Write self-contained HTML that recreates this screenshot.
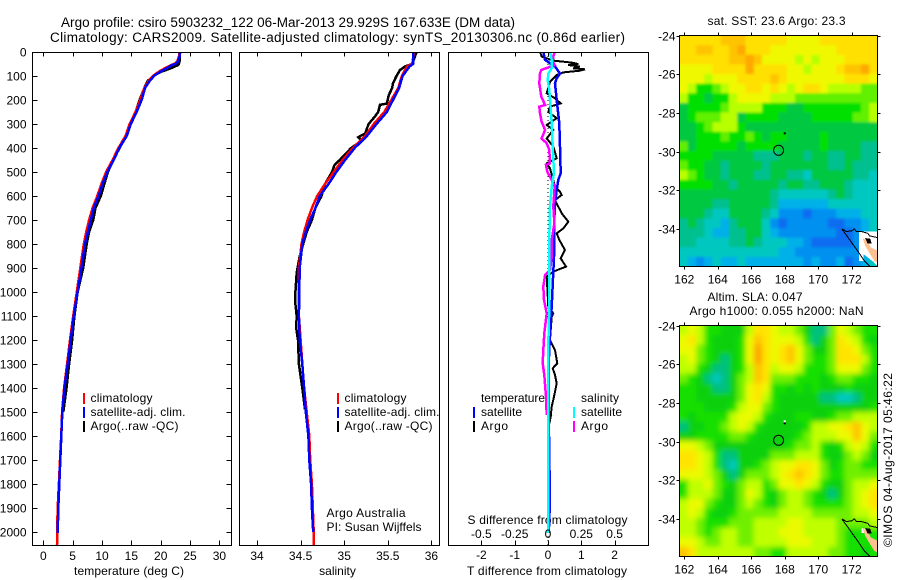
<!DOCTYPE html>
<html lang="en">
<head>
<meta charset="utf-8">
<title>Argo profile chart</title>
<style>
html,body{margin:0;padding:0;background:#fff;}
svg{display:block;font-family:"Liberation Sans",sans-serif;fill:#000;}
text{font-size:12px;}
.t14{font-size:13.5px;}
</style>
</head>
<body>
<svg id="chart" xmlns="http://www.w3.org/2000/svg" width="900" height="580" viewBox="0 0 900 580">
<defs>
<clipPath id="clip-sst"><rect x="679.5" y="35.5" width="198" height="231"/></clipPath>
<clipPath id="clip-sla"><rect x="679.5" y="325.5" width="198" height="231"/></clipPath>
<clipPath id="clip-temp"><rect x="32.5" y="52.5" width="199" height="493"/></clipPath>
<clipPath id="clip-sal"><rect x="239.5" y="52.5" width="200" height="493"/></clipPath>
<clipPath id="clip-diff"><rect x="448.5" y="52.5" width="200" height="493"/></clipPath>
<filter id="soft-sst" x="-5%" y="-5%" width="110%" height="110%"><feGaussianBlur stdDeviation="1.3"/></filter>
<filter id="soft-sla" x="-5%" y="-5%" width="110%" height="110%"><feGaussianBlur stdDeviation="2.6"/></filter>
</defs>
<text class="t14" x="61" y="27" textLength="454" lengthAdjust="spacing">Argo profile: csiro 5903232_122 06-Mar-2013 29.929S 167.633E (DM data)</text>
<text class="t14" x="50" y="42" textLength="575" lengthAdjust="spacing">Climatology: CARS2009. Satellite-adjusted climatology: synTS_20130306.nc (0.86d earlier)</text>

<text x="129" y="575" text-anchor="middle" textLength="110" lengthAdjust="spacing">temperature (deg C)</text>
<text x="337.5" y="575" text-anchor="middle">salinity</text>
<text x="547" y="575" text-anchor="middle" textLength="160" lengthAdjust="spacing">T difference from climatology</text>
<text x="547.5" y="524" text-anchor="middle" textLength="160" lengthAdjust="spacing">S difference from climatology</text>
<text x="326.5" y="517" textLength="79" lengthAdjust="spacing">Argo Australia</text>
<text x="326.5" y="531" textLength="95" lengthAdjust="spacing">PI: Susan Wijffels</text>

<text x="776.5" y="25" text-anchor="middle" textLength="138" lengthAdjust="spacing">sat. SST: 23.6 Argo: 23.3</text>
<text x="755" y="301" text-anchor="middle" textLength="95" lengthAdjust="spacing">Altim. SLA: 0.047</text>
<text x="776.5" y="315" text-anchor="middle" textLength="174" lengthAdjust="spacing">Argo h1000: 0.055 h2000: NaN</text>
<text transform="translate(892,547) rotate(-90)" textLength="174" lengthAdjust="spacing">©IMOS 04-Aug-2017 05:46:22</text>

<g>
<rect x="83" y="393" width="2" height="11" fill="#f00"/>
<text x="90.5" y="402" textLength="62" lengthAdjust="spacing">climatology</text>
<rect x="83" y="407" width="2" height="11" fill="#00f"/>
<text x="90.5" y="416" textLength="95" lengthAdjust="spacing">satellite-adj. clim.</text>
<rect x="83" y="421" width="2" height="11" fill="#000"/>
<text x="90.5" y="430" textLength="88" lengthAdjust="spacing">Argo(..raw -QC)</text>
</g>
<g>
<rect x="337" y="393" width="2" height="11" fill="#f00"/>
<text x="344.5" y="402" textLength="62" lengthAdjust="spacing">climatology</text>
<rect x="337" y="407" width="2" height="11" fill="#00f"/>
<text x="344.5" y="416" textLength="95" lengthAdjust="spacing">satellite-adj. clim.</text>
<rect x="337" y="421" width="2" height="11" fill="#000"/>
<text x="344.5" y="430" textLength="88" lengthAdjust="spacing">Argo(..raw -QC)</text>
</g>

<g id="plots"></g>

<g>
<text x="481" y="402" textLength="64" lengthAdjust="spacing">temperature</text>
<rect x="473" y="407" width="2" height="11" fill="#00f"/>
<text x="481" y="416" textLength="41" lengthAdjust="spacing">satellite</text>
<rect x="473" y="421" width="2" height="11" fill="#000"/>
<text x="481" y="430" textLength="27" lengthAdjust="spacing">Argo</text>
<text x="581" y="402" textLength="38" lengthAdjust="spacing">salinity</text>
<rect x="573" y="407" width="2" height="11" fill="#0ff"/>
<text x="581" y="416" textLength="41" lengthAdjust="spacing">satellite</text>
<rect x="573" y="421" width="2" height="11" fill="#f0f"/>
<text x="581" y="430" textLength="27" lengthAdjust="spacing">Argo</text>
</g>
</svg>

<script>
// ---- Tick labels ----
const depthTicks = [0,100,200,300,400,500,600,700,800,900,1000,1100,1200,1300,1400,1500,1600,1700,1800,1900,2000];
const tempTicks = [0,5,10,15,20,25,30];
const salTicks = [34,34.5,35,35.5,36];
const diffTTicks = [-2,-1,0,1,2];
const diffSTicks = [-0.5,-0.25,0,0.25,0.5];
const lonTicks = [162,164,166,168,170,172];
const latTicks = [-24,-26,-28,-30,-32,-34];

// ---- Temperature profiles ----
const tempClimDepth = [0,20,40,50,55,76,97,118,150,200,250,300,350,400,450,500,550,600,650,700,750,800,900,1000,1100,1200,1300,1400,1500,1600,1700,1800,1900,2000,2060];
const tempClimValue = [23.2,23.1,22.8,22.3,21.7,20.1,18.8,18,17.2,16.5,15.7,14.7,14,12.8,11.8,10.7,9.9,9.2,8.4,7.8,7.3,6.9,6.3,5.7,5.1,4.55,4.05,3.55,3.2,3.05,2.85,2.65,2.45,2.35,2.33];
const tempSatDepth = [0,20,40,50,55,76,97,118,150,200,250,300,350,400,450,500,550,600,650,700,750,800,900,1000,1100,1200,1300,1400,1500,1600,1700,1800,1900,2004];
const tempSatValue = [23.3,23.2,22.9,22.5,21.9,20.4,19,18.2,17.35,16.75,15.9,14.9,14.2,12.95,12,10.9,10.1,9.4,8.6,8.1,7.6,7.1,6.5,5.85,5.2,4.66,4.15,3.6,3.24,3.07,2.9,2.73,2.56,2.45];
const tempArgoDepth = [0,40,50,55,69,83,97,120,150,200,250,300,350,400,450,500,550,600,650,700,750,800,900,1000,1100,1200,1300,1400,1500];
const tempArgoValue = [23.3,23.2,23.1,22.9,21.6,20,18.9,17.8,17.2,16.4,15.7,14.7,14,13,11.9,11,10.4,9.8,8.9,8.5,7.8,7.4,6.8,5.85,5.3,4.9,4.4,3.95,3.4];

// ---- Salinity profiles ----
const salClimDepth = [0,50,60,100,150,200,250,300,350,400,450,500,550,600,650,700,750,800,900,1000,1100,1200,1300,1400,1500,1600,1700,1800,1900,2000,2060];
const salClimValue = [35.8,35.78,35.72,35.66,35.62,35.54,35.46,35.34,35.24,35.1,34.98,34.88,34.78,34.69,34.63,34.58,34.54,34.51,34.48,34.48,34.48,34.5,34.52,34.54,34.57,34.6,34.61,34.63,34.64,34.65,34.65];
const salSatDepth = [0,50,60,100,150,200,250,300,350,400,450,500,550,600,650,700,750,800,900,1000,1100,1200,1300,1400,1500,1600,1700,1800,1900,2000];
const salSatValue = [35.79,35.79,35.75,35.67,35.63,35.56,35.49,35.37,35.26,35.12,35.01,34.91,34.82,34.72,34.67,34.61,34.56,34.52,34.49,34.485,34.48,34.49,34.52,34.54,34.56,34.59,34.6,34.62,34.63,34.645];
const salArgoDepth = [0,20,40,50,60,75,100,130,150,180,215,220,250,270,300,340,355,370,400,450,470,500,550,600,650,700,750,800,850,920,1000,1050,1100,1150,1200,1300,1400,1490];
const salArgoValue = [35.83,35.81,35.79,35.78,35.7,35.64,35.6,35.56,35.55,35.51,35.49,35.41,35.39,35.35,35.28,35.24,35.16,35.2,35.08,34.95,34.89,34.86,34.78,34.74,34.67,34.63,34.57,34.53,34.49,34.455,34.44,34.44,34.455,34.45,34.47,34.48,34.52,34.55];

// ---- Difference profiles ----
const diffTSatDepth = [0,33,61,89,110,130,200,297,394,505,533,575,630,728,853,1061,1172,1300,1500,1700,1850,1950,2004];
const diffTSatValue = [-0.14,-0.09,0.21,0.36,0.26,0.21,0.26,0.34,0.36,0.38,0.31,0.26,0.21,0.18,0.18,0.11,0.06,0.02,0.02,0.04,0.06,0.04,0.02];
const diffTArgoDepth = [0,19,36,44,50,54,61,68,72,78,85,96,124,172,193,214,228,249,276,304,325,360,394,443,464,485,561,582,596,617,644,672,707,735,756,783,825,860,894,915,936,1061,1089,1103,1200,1242,1297,1318,1346,1381,1436,1478,1520,1547];
const diffTArgoValue = [-0.24,-0.19,0.16,0.71,0.91,0.61,0.96,0.76,1.11,0.96,0.46,0.26,0.06,-0.04,0.21,0.38,0.06,0.01,0.26,-0.04,0.16,-0.04,0.16,0.26,-0.04,0.06,0.21,0.36,0.41,0.21,0.31,0.41,0.61,0.46,0.26,0.34,0.51,0.38,0.54,0.16,-0.04,0.01,0.16,0.11,0.06,0.21,0.28,0.14,0.21,0.26,0.18,0.11,0.08,0.04];
const diffSSatDepth = [0,33,68,89,117,158,297,394,505,561,644,783,1061,1200,1500,2004];
const diffSSatValue = [0.015,0.028,0.028,0.003,-0.002,0.01,0.028,0.035,0.045,0.028,0.015,0.01,0.01,0.003,0.003,0];
const diffSArgoDepth = [0,19,40,54,75,89,131,186,221,228,255,290,325,360,381,408,464,471,499,533,561,603,644,714,783,853,908,929,978,1033,1089,1172,1242,1297,1346,1436,1512];
const diffSArgoValue = [0.05,0.04,0.035,0.05,-0.05,-0.06,-0.065,-0.05,-0.022,-0.065,-0.06,-0.048,-0.022,-0.048,-0.01,0.01,0.015,-0.015,-0.005,0.028,0.05,0.045,0.04,0.048,0.028,0.028,0.015,-0.022,-0.035,-0.03,-0.01,-0.028,-0.035,-0.04,-0.028,-0.015,-0.01];
const zeroLineDepth = [0,2060];
const zeroLineValue = [0,0];

// ---- Map fields (colour level per cell; north to south, west to east) ----
const sstGrid = [
[10,10,10,10,10,11,11,11,10,10,10,10,10,9,9,9,9,10,10,10,10,10,10,10],
[10,10,11,11,10,10,11,12,10,10,10,9,9,9,9,9,9,9,9,10,10,10,10,10],
[10,10,10,10,10,10,11,11,12,11,9,9,9,9,8,9,8,9,9,9,10,10,10,10],
[9,9,9,9,10,10,10,10,12,10,10,10,10,9,9,8,9,9,9,10,11,11,12,10],
[9,9,9,8,9,9,9,10,10,10,10,11,10,9,9,9,9,9,9,9,10,10,10,9],
[9,8,6,6,7,8,9,9,10,10,9,10,9,8,9,10,10,9,8,8,8,8,7,7],
[8,6,6,5,6,6,8,9,9,9,9,8,8,8,7,7,7,7,7,7,7,7,7,7],
[5,6,6,6,6,7,8,8,8,8,6,6,6,5,5,6,6,6,6,6,6,6,7,8],
[5,6,7,7,7,8,8,5,6,6,6,6,5,5,5,5,6,6,6,6,6,7,7,8],
[5,5,6,7,8,8,8,6,5,5,5,5,5,5,5,5,5,5,5,5,5,5,5,5],
[5,5,6,6,6,7,6,6,7,6,5,6,6,5,5,5,5,6,5,5,5,5,5,5],
[7,5,6,6,6,6,6,5,6,6,6,6,5,5,5,5,5,6,5,5,5,5,4,4],
[6,6,6,6,5,5,5,5,5,4,4,4,5,5,5,4,5,5,4,4,5,5,4,4],
[7,6,6,5,5,4,5,5,5,5,4,5,5,5,5,5,5,5,4,4,5,4,4,4],
[8,7,6,5,5,4,5,5,5,4,4,5,5,4,4,3,5,5,5,5,5,4,4,3],
[6,6,6,6,5,5,4,5,5,5,5,5,4,5,5,4,4,5,5,5,4,3,3,3],
[5,5,5,5,5,5,5,5,5,5,5,4,3,3,3,3,3,3,4,5,4,3,3,3],
[5,5,5,5,4,4,5,5,5,5,5,4,2,2,2,2,2,2,3,3,3,3,3,3],
[5,5,5,4,3,3,5,5,5,5,4,3,1,1,1,0,1,1,1,2,2,2,3,3],
[4,5,4,3,3,2,4,5,5,5,3,1,0,1,1,1,1,1,0,0,1,1,2,3],
[4,4,4,3,2,2,4,4,5,5,3,2,1,1,1,1,1,1,1,0,0,1,2,3],
[4,4,3,3,3,3,4,4,5,4,3,3,3,2,2,1,0,0,0,0,0,1,2,3],
[3,3,3,3,3,3,3,3,3,3,3,3,2,2,1,1,1,1,1,1,1,1,2,3],
[3,2,1,2,3,2,2,3,2,2,2,2,2,2,2,1,2,1,1,2,0,1,2,3]
];
const slaGrid = [
[8,9,8,6,6,5,5,5,8,10,10,9,8,8,7,5,4,4,7,9,8,7,6,6],
[9,10,8,6,5,5,5,6,9,11,10,9,9,9,8,6,4,5,7,10,9,8,6,5],
[9,9,7,6,5,5,5,6,9,12,10,9,10,11,9,7,5,5,7,10,10,9,7,6],
[8,9,7,6,5,4,5,6,9,12,10,9,10,11,9,7,6,6,7,10,10,10,8,6],
[8,8,6,5,4,4,5,6,8,11,10,8,9,9,8,6,6,6,7,9,9,9,7,6],
[7,6,5,4,3,4,5,7,8,11,10,7,7,7,6,6,6,5,6,7,7,6,6,5],
[6,6,5,5,4,4,5,7,9,10,9,6,6,5,6,5,6,5,5,5,6,5,5,5],
[6,6,5,5,5,5,5,7,9,10,8,6,5,5,5,5,5,4,4,3,3,4,5,5],
[6,6,6,5,5,5,6,8,9,9,7,6,5,5,5,5,5,5,5,5,5,5,5,6],
[6,5,6,6,6,6,8,9,9,8,6,5,5,5,6,6,5,5,6,7,7,8,8,8],
[4,5,5,6,6,7,8,9,8,6,5,5,5,5,5,6,8,8,9,9,10,11,9,8],
[5,5,6,6,6,6,7,7,6,5,5,5,5,5,6,7,8,8,8,9,9,11,9,7],
[9,9,8,7,5,5,5,5,5,5,5,5,5,6,7,7,8,6,5,6,8,9,8,6],
[10,10,9,8,6,4,4,5,5,5,5,7,7,7,8,8,8,6,5,5,7,8,7,5],
[10,10,9,8,6,4,3,5,5,6,7,8,9,9,10,10,9,7,5,6,7,7,6,6],
[9,9,9,8,7,5,4,5,7,7,7,8,9,10,11,10,9,7,6,6,7,7,7,7],
[6,8,8,9,7,6,5,7,8,8,6,7,9,9,10,9,8,6,5,5,7,8,8,9],
[6,8,8,8,7,5,5,7,9,8,6,5,7,8,8,7,6,5,4,5,7,8,9,10],
[8,9,9,7,6,5,5,7,8,7,6,5,7,8,8,7,6,6,6,6,7,8,9,10],
[8,9,8,6,5,5,6,7,7,7,7,7,8,8,8,8,7,7,7,7,7,8,8,9],
[8,8,7,6,6,6,7,7,7,8,8,8,8,9,9,8,8,8,8,7,7,7,7,8],
[8,8,7,6,7,8,8,7,7,8,8,8,9,9,9,8,8,8,8,7,6,6,6,6],
[9,9,8,7,7,8,8,7,7,8,8,8,8,9,9,9,8,8,8,7,6,6,6,6],
[11,10,8,8,8,8,8,8,8,7,7,6,6,8,8,8,8,8,7,7,6,6,5,6]
];
const sstColors = ["#0a6cf0","#0090f0","#00b0e8","#00c8c0","#00c090","#00c840","#00e000","#60f000","#b8ff00","#f0f800","#ffe000","#ffc400","#ffa800"];
const slaColors = ["#0a6cf0","#0090f0","#00b0e8","#00c8c0","#00c080","#08d010","#18e000","#70f000","#c0ff00","#ecfa00","#ffe400","#ffc400","#ffa400"];
const argoLon = [167.633];
const argoLat = [-29.929];
const reefLon = [168];
const reefLat = [-29.05];
const coastLon = [171.41,171.67,172,172.17,172.27,172.57,172.96,173.06,173.46,173.6];
const coastLat = [-33.99,-34.13,-34.1,-33.99,-34.13,-34.13,-34.22,-34.35,-34.43,-34.43];
const coastSouthLon = [171.41,171.88,172.38,172.78,173.27,173.6];
const coastSouthLat = [-33.99,-34.56,-35.17,-35.68,-36.1,-36.1];
const landLon = [172.65,172.95,173.13,173.5,173.6,173.6,173.35,173.1,172.8];
const landLat = [-34.47,-34.63,-34.94,-35.1,-35.1,-35.75,-35.65,-35.3,-34.87];
const reefTopLon = [172.8,173.1,173.2,172.95];
const reefTopLat = [-34.47,-34.5,-34.75,-34.75];
const whiteLon = [172.45,173.6,173.6,173.3,172.7,172.7,172.45];
const whiteLat = [-34.13,-34.13,-36.0,-35.7,-35.3,-35.65,-35.65];
const slaWhiteLon = [172.6,172.85,172.85,172.6];
const slaWhiteLat = [-34.5,-34.5,-34.72,-34.72];

// ---- Scales ----
const yDepth = d => 52 + d * 0.24;
const xTemp = t => 43.3 + t * 5.87;
const xSal = s => 257 + (s - 34) * 87.2;
const xDiffT = t => 548 + t * 33.3;
const xDiffS = s => 548 + s * 133.2;
const xLon = lon => 684.3 + (lon - 162) * 16.74;
const yLat = (lat, top) => top + (-24 - lat) * 19.33;

const NS = 'http://www.w3.org/2000/svg';
const root = document.getElementById('plots');

function make(tag, name, parent) {
  const el = document.createElementNS(NS, tag);
  
  
  parent.appendChild(el);
  return el;
}
function line(name, parent, x1, y1, x2, y2) {
  const l = make('line', name, parent);
  l.setAttribute('x1', x1);
  l.setAttribute('y1', y1);
  l.setAttribute('x2', x2);
  l.setAttribute('y2', y2);
  l.setAttribute('stroke', '#000');
  l.setAttribute('stroke-width', '1');
  l.setAttribute('shape-rendering', 'crispEdges');
  return l;
}
function label(name, parent, x, y, str, anchor) {
  const t = make('text', name, parent);
  t.setAttribute('x', x);
  t.setAttribute('y', y);
  t.setAttribute('text-anchor', anchor);
  t.textContent = str;
  return t;
}
function series(name, parent, xs, ds, xScale, color, width, dash) {
  const p = make('path', name, parent);
  const d = xs.map((v, i) => (i ? 'L' : 'M') + xScale(v).toFixed(1) + ' ' + yDepth(ds[i]).toFixed(1)).join('');
  p.setAttribute('d', d);
  p.setAttribute('fill', 'none');
  p.setAttribute('stroke', color);
  p.setAttribute('stroke-width', width);
  p.setAttribute('shape-rendering', 'crispEdges');
  if (dash) p.setAttribute('stroke-dasharray', dash);
  return p;
}
function frame(name, parent, x, y, w, h) {
  const r = make('rect', name, parent);
  r.setAttribute('x', x);
  r.setAttribute('y', y);
  r.setAttribute('width', w);
  r.setAttribute('height', h);
  r.setAttribute('fill', 'none');
  r.setAttribute('stroke', '#000');
  r.setAttribute('stroke-width', '1');
  r.setAttribute('shape-rendering', 'crispEdges');
  return r;
}

const TOP = 52.5, BOT = 545.5;

function xAxisTicks(name, parent, ticks, scale) {
  ticks.forEach(v => {
    const x = Math.round(scale(v)) + 0.5;
    line(name + '-tick', parent, x, BOT, x, BOT - 5);
    line(name + '-tick', parent, x, TOP, x, TOP + 4);
  });
}

// Temperature panel
const pTemp = make('g', 'temperature-panel', root);
const pTempLines = make('g', 'temperature-series', pTemp);
pTempLines.setAttribute('clip-path', 'url(#clip-temp)');
series('temperature-argo-line', pTempLines, tempArgoValue, tempArgoDepth, xTemp, '#000', 2.5);
series('temperature-climatology-line', pTempLines, tempClimValue, tempClimDepth, xTemp, '#f00', 2.5);
series('temperature-satellite-line', pTempLines, tempSatValue, tempSatDepth, xTemp, '#00f', 2.5);
frame('temperature-panel-frame', pTemp, 32.5, TOP, 199, BOT - TOP);
xAxisTicks('temperature-x', pTemp, tempTicks, xTemp);
tempTicks.forEach(v => {
  label('temperature-tick-label', pTemp, xTemp(v), 560, String(v), 'middle');
});
depthTicks.forEach(d => {
  const y = Math.round(yDepth(d)) + 0.5;
  line('depth-tick-left', pTemp, 32.5, y, 37.5, y);
  line('depth-tick-right', pTemp, 226.5, y, 231.5, y);
  label('depth-tick-label', pTemp, 26.5, y + 4, String(d), 'end');
});

// Salinity panel
const pSal = make('g', 'salinity-panel', root);
const pSalLines = make('g', 'salinity-series', pSal);
pSalLines.setAttribute('clip-path', 'url(#clip-sal)');
series('salinity-argo-line', pSalLines, salArgoValue, salArgoDepth, xSal, '#000', 2.5);
series('salinity-climatology-line', pSalLines, salClimValue, salClimDepth, xSal, '#f00', 2.5);
series('salinity-satellite-line', pSalLines, salSatValue, salSatDepth, xSal, '#00f', 2.5);
frame('salinity-panel-frame', pSal, 239.5, TOP, 200, BOT - TOP);
xAxisTicks('salinity-x', pSal, salTicks, xSal);
salTicks.forEach(v => {
  label('salinity-tick-label', pSal, xSal(v), 560, String(v), 'middle');
});

// Difference panel
const pDiff = make('g', 'difference-panel', root);
const pDiffLines = make('g', 'difference-series', pDiff);
pDiffLines.setAttribute('clip-path', 'url(#clip-diff)');
series('zero-difference-line', pDiffLines, zeroLineValue, zeroLineDepth, xDiffT, '#000', 1, '1 3');
series('t-difference-argo-line', pDiffLines, diffTArgoValue, diffTArgoDepth, xDiffT, '#000', 2);
series('t-difference-satellite-line', pDiffLines, diffTSatValue, diffTSatDepth, xDiffT, '#00f', 2.5);
series('s-difference-argo-line', pDiffLines, diffSArgoValue, diffSArgoDepth, xDiffS, '#f0f', 2.5);
series('s-difference-satellite-line', pDiffLines, diffSSatValue, diffSSatDepth, xDiffS, '#0ff', 2.5);
frame('difference-panel-frame', pDiff, 448.5, TOP, 200, BOT - TOP);
xAxisTicks('t-difference-x', pDiff, diffTTicks, xDiffT);
diffTTicks.forEach(v => {
  label('t-difference-tick-label', pDiff, xDiffT(v), 559, String(v), 'middle');
});
diffSTicks.forEach(v => {
  label('s-difference-tick-label', pDiff, xDiffS(v), 538, String(v), 'middle');
});

// Maps
function polygonPoints(lons, lats, top) {
  return lons.map((v, i) => xLon(v).toFixed(1) + ',' + yLat(lats[i], top).toFixed(1)).join(' ');
}
function drawMap(name, grid, colors, top, clipId, filterId, whiteX, whiteY, reefFill) {
  const g = make('g', name + '-map', root);
  const clipped = make('g', name + '-map-field', g);
  clipped.setAttribute('clip-path', 'url(#' + clipId + ')');
  const field = make('g', name + '-cells', clipped);
  field.setAttribute('filter', 'url(#' + filterId + ')');
  const rows = grid.length;
  const cols = grid[0].length;
  const left = 679.5, width = 198, height = 231;
  grid.forEach((row, r) => {
    row.forEach((v, c) => {
      const x0 = left + c * width / cols - (c === 0 ? 10 : 0);
      const x1 = left + (c + 1) * width / cols + (c === cols - 1 ? 10 : 0);
      const y0 = top + r * height / rows - (r === 0 ? 10 : 0);
      const y1 = top + (r + 1) * height / rows + (r === rows - 1 ? 10 : 0);
      const cell = make('rect', name + '-cell', field);
      cell.setAttribute('x', x0.toFixed(2));
      cell.setAttribute('y', y0.toFixed(2));
      cell.setAttribute('width', (x1 - x0 + 0.4).toFixed(2));
      cell.setAttribute('height', (y1 - y0 + 0.4).toFixed(2));
      cell.setAttribute('fill', colors[Math.max(0, Math.min(colors.length - 1, Math.round(v)))]);
    });
  });
  const latTop = top + 0.2;
  const w = make('polygon', name + '-missing-data', clipped);
  w.setAttribute('points', polygonPoints(whiteX, whiteY, latTop));
  w.setAttribute('fill', '#fff');
  w.setAttribute('shape-rendering', 'crispEdges');
  const land = make('polygon', name + '-land', clipped);
  land.setAttribute('points', polygonPoints(landLon, landLat, latTop));
  land.setAttribute('fill', '#ffc090');
  land.setAttribute('shape-rendering', 'crispEdges');
  const reefTop = make('polygon', name + '-reef', clipped);
  reefTop.setAttribute('points', polygonPoints(reefTopLon, reefTopLat, latTop));
  reefTop.setAttribute('fill', '#000');
  reefTop.setAttribute('shape-rendering', 'crispEdges');
  const coast = make('polyline', name + '-coastline', clipped);
  coast.setAttribute('points', polygonPoints(coastLon, coastLat, latTop));
  coast.setAttribute('fill', 'none');
  coast.setAttribute('stroke', '#000');
  coast.setAttribute('stroke-width', '1');
  coast.setAttribute('shape-rendering', 'crispEdges');
  const coast2 = make('polyline', name + '-coastline-south', clipped);
  coast2.setAttribute('points', polygonPoints(coastSouthLon, coastSouthLat, latTop));
  coast2.setAttribute('fill', 'none');
  coast2.setAttribute('stroke', '#000');
  coast2.setAttribute('stroke-width', '1');
  coast2.setAttribute('shape-rendering', 'crispEdges');
  argoLon.forEach((v, i) => {
    const c = make('circle', name + '-argo-position', g);
    c.setAttribute('cx', xLon(v));
    c.setAttribute('cy', yLat(argoLat[i], latTop));
    c.setAttribute('r', '5');
    c.setAttribute('fill', 'none');
    c.setAttribute('stroke', '#000');
    c.setAttribute('stroke-width', '1');
  });
  reefLon.forEach((v, i) => {
    const rf = make('rect', name + '-island-marker', g);
    rf.setAttribute('x', xLon(v) - 1);
    rf.setAttribute('y', yLat(reefLat[i], latTop) - 1);
    rf.setAttribute('width', '2');
    rf.setAttribute('height', '2');
    rf.setAttribute('fill', '#000');
    if (reefFill) {
      const top2 = make('rect', name + '-island-marker-white', g);
      top2.setAttribute('x', xLon(v) - 1);
      top2.setAttribute('y', yLat(reefLat[i], latTop) - 3);
      top2.setAttribute('width', '2');
      top2.setAttribute('height', '2');
      top2.setAttribute('fill', '#fff');
    }
  });
  frame(name + '-map-frame', g, left, top, width, height);
  lonTicks.forEach(v => {
    const x = Math.round(xLon(v)) + 0.5;
    line(name + '-lon-tick', g, x, top, x, top - 3);
    line(name + '-lon-tick', g, x, top + height, x, top + height + 3);
    label(name + '-lon-tick-label', g, xLon(v), top + height + 17, String(v), 'middle');
  });
  latTicks.forEach(v => {
    const y = Math.round(yLat(v, latTop)) + 0.5;
    line(name + '-lat-tick', g, left, y, left - 3, y);
    line(name + '-lat-tick', g, left + width, y, left + width + 3, y);
    label(name + '-lat-tick-label', g, 675.5, y + 4, String(v), 'end');
  });
}
drawMap('sst', sstGrid, sstColors, 35.5, 'clip-sst', 'soft-sst', whiteLon, whiteLat, false);
drawMap('sla', slaGrid, slaColors, 325.5, 'clip-sla', 'soft-sla', slaWhiteLon, slaWhiteLat, true);
</script>
</body>
</html>
